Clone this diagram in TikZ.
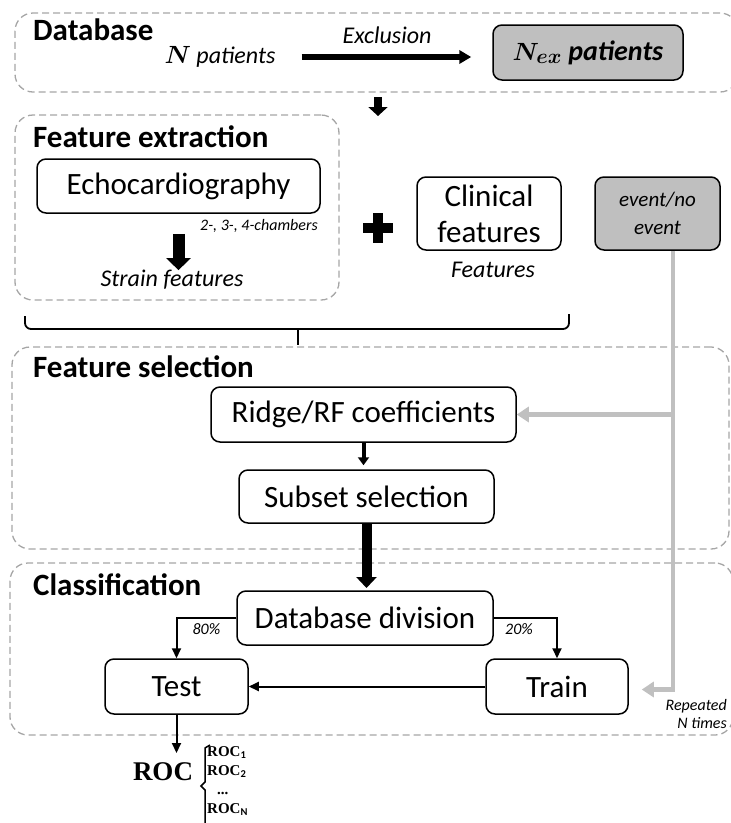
\documentclass[tikz,border=0pt]{standalone}
\usepackage{fontspec}
\setmainfont{Carlito}
\newfontfamily\serifroc{Liberation Serif}
\usetikzlibrary{arrows.meta, positioning}
\definecolor{boxgray}{RGB}{191,191,191}
\definecolor{dashgray}{RGB}{166,166,166}
\definecolor{linegray}{RGB}{192,192,192}
\tikzset{
  panel/.style={rectangle, draw=dashgray, line width=1.3pt, dash pattern=on 7pt off 4pt, rounded corners=18pt, inner sep=0pt},
  title/.style={anchor=west, inner sep=0pt, font=\bfseries\fontsize{31}{36}\selectfont},
  process/.style={rectangle, rounded corners=9pt, draw=black, line width=1.5pt, fill=white, inner sep=0pt, align=center, font=\fontsize{31}{37}\selectfont},
  outcome/.style={process, fill=boxgray},
  note/.style={inner sep=0pt, font=\itshape\fontsize{24}{28}\selectfont},
  small/.style={inner sep=0pt, font=\itshape\fontsize{16}{18}\selectfont},
  arrow/.style={line width=2pt, -{Triangle[length=10pt,width=9pt]}},
  fatarrow/.style={line width=#1, -{Triangle[length=12pt,width=2.2*#1]}},
  grayarrow/.style={draw=linegray, line width=4.5pt, -{Triangle[length=12pt,width=15pt]}}
}

\begin{document}
\begin{tikzpicture}[x=1pt, y=-1pt]
  \useasboundingbox (0,0) rectangle (731,823);

  % panels
  \node (dbpanel) [panel, minimum width=723pt, minimum height=79pt] at (376.5,52.5) {};
  \node (fxpanel) [panel, minimum width=324pt, minimum height=185pt] at (177,207.5) {};
  \node (fspanel) [panel, minimum width=717pt, minimum height=202pt] at (370.5,448) {};
  \node (clpanel) [panel, minimum width=723pt, minimum height=172pt] at (371.5,649) {};

  \node (tdb) [title] at (33,30) {Database};
  \node (tfx) [title] at (33,137) {Feature extraction};
  \node (tfs) [title] at (33,367) {Feature selection};
  \node (tcl) [title] at (33,585) {Classification};

  % database
  \node (npat) [note] at (220,57) {{\boldmath$N$} patients};
  \node (excl) [note] at (387,35) {Exclusion};
  \node (nex) [outcome, minimum width=190pt, minimum height=55pt, font=\fontsize{28}{32}\selectfont] at (588,52.5) {{\boldmath$N_{ex}$} \textbf{\textit{patients}}};
  \draw [fatarrow=6pt, shorten <=26pt, shorten >=21pt] (npat.east) -- (npat.east -| nex.west);

  \coordinate (dbout) at (378,97);
  \coordinate (fxin) at (378,116);
  \draw [line width=8pt, -{Triangle[length=9pt,width=19pt]}] (dbout) -- (fxin);

  % feature extraction
  \node (echo) [process, minimum width=283pt, minimum height=54pt] at (178.5,186) {Echocardiography};
  \node (cham) [small, anchor=east] at (318,226) {2-, 3-, 4-chambers};
  \node (strain) [note] at (172,280) {Strain features};
  \draw [line width=12pt, -{Triangle[length=12pt,width=24pt]}] ([yshift=-20pt]echo.south) -- (echo.south |- strain.north);

  \coordinate (plus) at (378,228);
  \draw [line width=9.5pt] (plus) ++(-15,0) -- ++(30,0) (plus) ++(0,-15) -- ++(0,30);

  \node (clin) [process, minimum width=144pt, minimum height=73pt, font=\fontsize{31}{36}\selectfont] at (489,213.5) {Clinical\\features};
  \node (feats) [note] at (493,270) {Features};
  \node (event) [outcome, minimum width=125pt, minimum height=73pt, font=\itshape\fontsize{21}{28}\selectfont] at (657.5,213.5) {event/no\\event};

  % brace
  \draw [line width=1.8pt, rounded corners=6pt] (25,316) |- (569,329) -- (569,314);
  \draw [line width=1.8pt] (298,329) -- (298,345);

  % feature selection
  \node (ridge) [process, minimum width=305pt, minimum height=55pt] at (363.5,414.5) {Ridge/RF coefficients};
  \node (subset) [process, minimum width=255pt, minimum height=53pt] at (366.5,496.5) {Subset selection};
  \draw [line width=4pt, -{Triangle[length=8pt,width=11pt]}, shorten >=4pt] (ridge.south) -- (ridge.south |- subset.north);
  \draw [line width=10pt, -{Triangle[length=11pt,width=20pt]}, shorten >=3pt] (subset.south) -- (subset.south |- 0,591);

  % classification
  \node (dbdiv) [process, minimum width=256pt, minimum height=54pt] at (365,618) {Database division};
  \node (test) [process, minimum width=143pt, minimum height=55pt] at (176.5,686.5) {Test};
  \node (train) [process, minimum width=142pt, minimum height=55pt] at (557,686.5) {Train};
  \draw [arrow] (dbdiv.west) -| node[small, pos=0.25, below=5pt] {80\%} (test.north);
  \draw [arrow] (dbdiv.east) -| node[small, pos=0.2, below=5pt] {20\%} (train.north);
  \draw [arrow] (train.west) -- (test.west -| test.east);
  \node (rep) [small, anchor=east, align=right] at (727,714) {Repeated\\N times};

  % event/no event feedback
  \coordinate (tap) at ([xshift=15.5pt]event.south);
  \draw [grayarrow] (tap) |- (ridge.east);
  \draw [grayarrow] (tap) |- ([xshift=13pt,yshift=-3pt]train.east);

  % roc
  \coordinate (rocin) at (176.5,753);
  \draw [arrow] (test.south) -- (rocin);
  \node (roc) [inner sep=0pt, font=\serifroc\bfseries\fontsize{27}{30}\selectfont] at (163,772) {ROC};
  \node (rocs) [anchor=north west, align=left, inner sep=0pt, font=\serifroc\bfseries\fontsize{15}{19}\selectfont] at (207,746) {ROC$_{\mathbf{1}}$\\ROC$_{\mathbf{2}}$\\\hspace*{10pt}...\\ROC$_{\mathbf{N}}$};
  \draw [line width=1.5pt] (210,745) -- (205,748) -- (205,782) -- (201,786) -- (205,790) -- (205,830);
\end{tikzpicture}
\end{document}
